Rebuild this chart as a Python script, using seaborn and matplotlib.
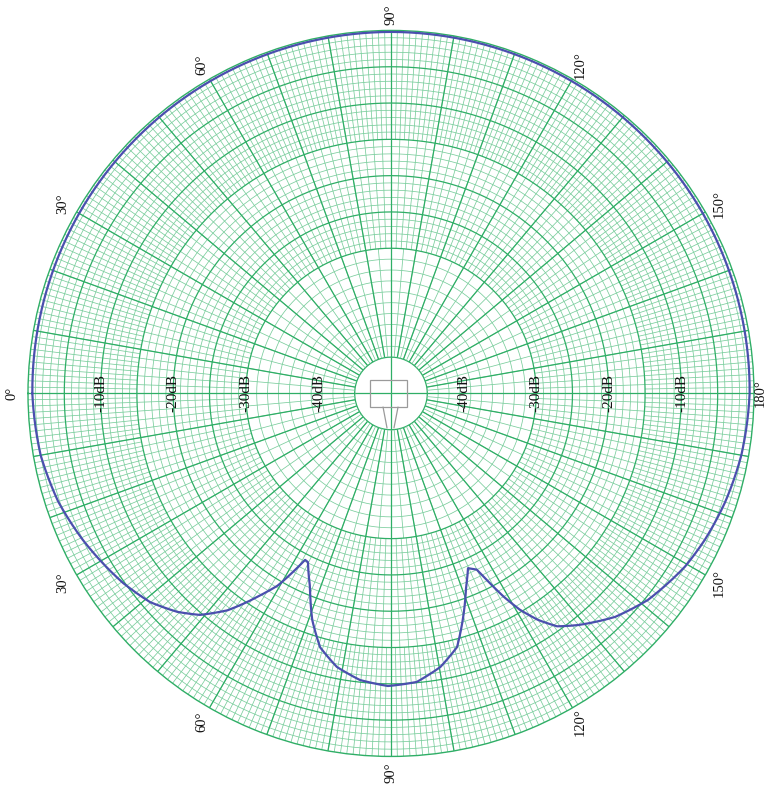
import numpy as np
import pandas as pd
from matplotlib import pyplot as plt
import seaborn as sns

# pattern: angle (deg, clockwise from the left "0°") and level in dB
angle_deg = [0, 15, 30, 45, 60, 75, 90, 105, 120, 135, 150, 165, 180,
             190, 198, 205.0, 210.5, 218.8, 224.9, 231.1, 234.5, 237.0, 239.2,
             241.0, 242.5, 244.0, 246.2, 248.8, 252.4, 255.4, 259.8, 264.9,
             270.6, 276.2, 281.2, 285.6, 289.2, 292.7, 296.2, 297.3, 300.5,
             302.5, 304.5, 307.0, 310.8, 314.4, 319.1, 324.7, 330.2, 334.6,
             342, 350, 360]
level_db = [-0.6, -0.5, -0.4, -0.35, -0.3, -0.25, -0.2, -0.25, -0.3, -0.35, -0.4, -0.5, -0.6,
            -1.0, -1.6, -2.3, -3.0, -4.6, -6.4, -9.0, -10.6, -12.8, -15.3,
            -18.0, -20.6, -23.0, -23.7, -21.4, -17.3, -13.9, -11.7, -10.1,
            -9.7, -10.3, -11.6, -13.7, -17.0, -21.1, -24.1, -24.2, -19.3,
            -17.3, -15.2, -12.6, -9.7, -7.9, -6.1, -4.8, -3.8, -3.0,
            -1.8, -1.0, -0.6]

angle_ticks = [0, 30, 60, 90, 120, 150, 180, 210, 240, 270, 300, 330]
angle_labels = ["0°", "30°", "60°", "90°", "120°", "150°", "180°",
                "150°", "120°", "90°", "60°", "30°"]
db_labels = [-10, -20, -30, -40]

MAJOR = "#2fae66"
MINOR = "#79cd9c"
CURVE = "#4b4fae"

sns.set_theme(style="white")
plt.rcParams["font.family"] = ["Liberation Serif", "DejaVu Serif"]

fig = plt.figure(figsize=(7.65, 7.85), dpi=100)
ax = fig.add_axes([0.0366, 0.0363, 0.949, 0.925], projection="polar")
ax.set_theta_zero_location("W")
ax.set_theta_direction(-1)

# polar graph paper
th = np.linspace(0, 2 * np.pi, 721)
for r in np.arange(-30, 0, 1.0):
    major = r % 5 == 0
    ax.plot(th, np.full_like(th, r), color=MAJOR if major else MINOR,
            lw=0.9 if major else 0.55, zorder=1 if major else 0)
for r in np.arange(-45, -30, 1.5):
    ax.plot(th, np.full_like(th, r), color=MAJOR if r == -45 else MINOR,
            lw=0.9 if r == -45 else 0.55, zorder=0)

def spokes(step, r0, r1, color, lw, z):
    t = np.deg2rad(np.arange(0, 360, step))
    ax.vlines(t, r0, r1, color=color, lw=lw, zorder=z)

spokes(1, -15, 0, MINOR, 0.55, 0)
spokes(2, -30, -15, MINOR, 0.55, 0)
spokes(5, -45, -30, MINOR, 0.55, 0)
spokes(10, -45, 0, MAJOR, 0.9, 1)
spokes(90, -50, -45, MAJOR, 0.9, 1)

df = pd.DataFrame({"theta": np.deg2rad(angle_deg), "db": level_db})
sns.lineplot(data=df, x="theta", y="db", ax=ax, color=CURVE, lw=1.6,
             sort=False, estimator=None, zorder=3)
# let the polar transform bend each segment instead of drawing chords
curve = ax.lines[-1]
curve.get_path()._interpolation_steps = 40

ax.set_ylim(-50, 0)
ax.set_xticks([])
ax.set_yticks([])
ax.grid(False)
ax.set_xlabel("")
ax.set_ylabel("")
ax.spines["polar"].set_color(MAJOR)
ax.spines["polar"].set_linewidth(1.0)

for a, lab in zip(angle_ticks, angle_labels):
    r = 0.9 if a == 180 else 2.2
    ax.text(np.deg2rad(a), r, lab, rotation=90, ha="center", va="center",
            fontsize=10.5, color="#111111", clip_on=False)
for d in db_labels:
    for a in (0, 180):
        ax.text(np.deg2rad(a), d, f"{d}dB", rotation=90, ha="center", va="center",
                fontsize=11, color="#111111", zorder=4)

# little antenna sketch in the middle
fig.add_artist(plt.Rectangle((0.4837, 0.4815), 0.0484, 0.0344, fill=False,
                             ec="#9a9a9a", lw=0.9, transform=fig.transFigure))
fig.add_artist(plt.Line2D([0.5007, 0.5059], [0.4815, 0.4548], color="#9a9a9a",
                          lw=0.9, transform=fig.transFigure))
fig.add_artist(plt.Line2D([0.5203, 0.5150], [0.4815, 0.4548], color="#9a9a9a",
                          lw=0.9, transform=fig.transFigure))

fig.savefig("out.png", dpi=100, facecolor="white")
